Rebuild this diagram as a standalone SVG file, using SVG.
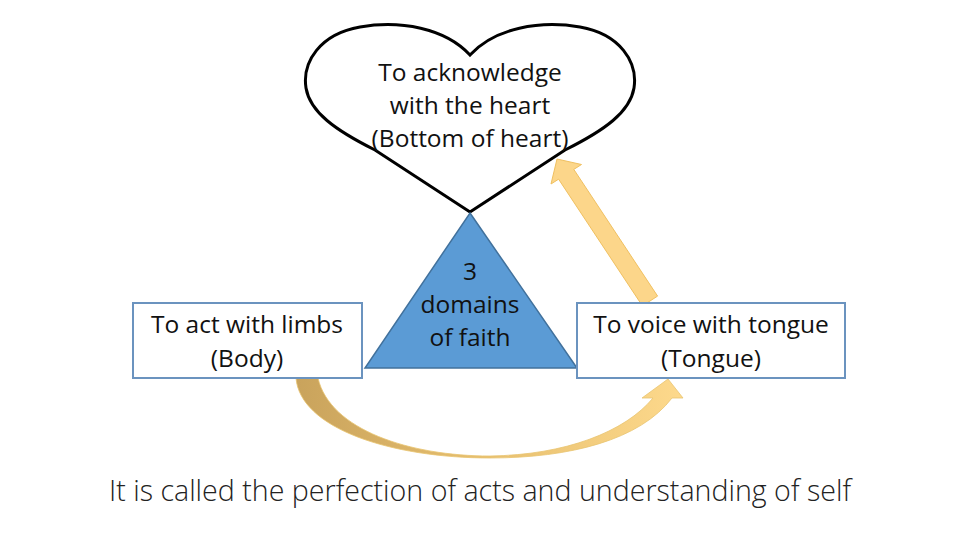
<svg xmlns="http://www.w3.org/2000/svg" width="960" height="540" viewBox="0 0 960 540">
  <style>
    .t { font-family: "Open Sans", "Liberation Sans", Arial, sans-serif; font-size: 24.5px; fill: #111; text-anchor: middle; }
    .box { fill: #ffffff; stroke: #6b93bf; stroke-width: 2; }
    .cap { font-family: "Open Sans", "Liberation Sans", Arial, sans-serif; font-size: 28.6px; font-weight: 300; fill: #222; text-anchor: middle; }
    .yarrow { fill: #fcd68a; stroke: #f0c060; stroke-width: 1; }
  </style>
  <defs>
    <linearGradient id="curveGrad" x1="296" y1="0" x2="683" y2="0" gradientUnits="userSpaceOnUse">
      <stop offset="0" stop-color="#c9a35c"/>
      <stop offset="0.5" stop-color="#e8c070"/>
      <stop offset="1" stop-color="#fdd98c"/>
    </linearGradient>
  </defs>
  <rect width="960" height="540" fill="#ffffff"/>

  <g id="connectors">
    <path class="yarrow" d="M657.6,296.1 L573.8,169.4 L581.5,164.5 L557,159 L551,184 L558.6,179.2 L642.4,305.9 Z"/>
    <path fill="url(#curveGrad)" stroke="#e8c470" stroke-width="0.8" d="M296,378 C300,428 390,458 490,458 C570,458 640,440 672,398 L683,398 L668,379 L642,398 L653,398 C625,432 565,455 490,456 C410,456 330,430 318,378 Z"/>
  </g>

  <g id="heart">
    <path d="M470,55 C445,28 400,20 360,27 C320,34 302,62 306,88 C310,112 335,130 375,150 L470,212 L565,150 C605,130 630,112 634,88 C638,62 620,34 580,27 C540,20 495,28 470,55 Z" fill="#ffffff" stroke="#000000" stroke-width="3" stroke-linejoin="miter"/>
    <text class="t" x="470" y="81">To acknowledge</text>
    <text class="t" x="470" y="114">with the heart</text>
    <text class="t" x="470" y="147">(Bottom of heart)</text>
  </g>

  <g id="body">
    <rect class="box" x="133" y="303" width="229" height="75"/>
    <text class="t" x="247" y="333">To act with limbs</text>
    <text class="t" x="247" y="367">(Body)</text>
  </g>

  <g id="faith">
    <path d="M470,213 L577,368 L365,368 Z" fill="#5b9bd5" stroke="#41719c" stroke-width="1.5"/>
    <text class="t" x="470" y="280" fill="#10203a">3</text>
    <text class="t" x="470" y="313">domains</text>
    <text class="t" x="470" y="346">of faith</text>
  </g>

  <g id="tongue">
    <rect class="box" x="577" y="303" width="268" height="75"/>
    <text class="t" x="711" y="333">To voice with tongue</text>
    <text class="t" x="711" y="367">(Tongue)</text>
  </g>

  <text class="cap" x="480" y="501">It is called the perfection of acts and understanding of self</text>
</svg>
